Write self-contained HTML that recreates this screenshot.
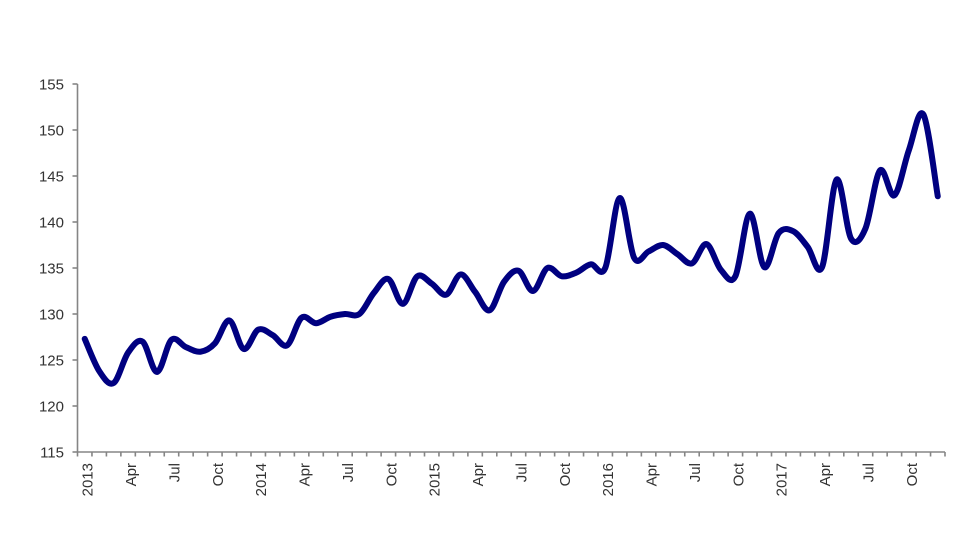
<!DOCTYPE html>
<html>
<head>
<meta charset="utf-8">
<style>
  html,body{margin:0;padding:0;background:#fff;}
  svg{display:block;}
  text{font-family:"Liberation Sans", Arial, sans-serif;fill:#333;}
</style>
</head>
<body>
<svg id="chart" width="980" height="552" viewBox="0 0 980 552" xmlns="http://www.w3.org/2000/svg">
  <rect width="980" height="552" fill="#fff"/>
  <g id="axes" stroke="#858585" stroke-width="1.6" fill="none"></g>
  <g id="ylabels" font-size="15" text-anchor="end"></g>
  <g id="xlabels" font-size="15"></g>
  <path id="line" fill="none" stroke="#000080" stroke-width="6" stroke-linejoin="round" stroke-linecap="round"/>
</svg>
<script>
(function(){
  var NS="http://www.w3.org/2000/svg";
  var x0=77.5, x1=945, yTop=84, yBot=452;
  var mw=(x1-x0)/60;
  function Y(v){return yBot-(v-115)*(yBot-yTop)/40;}
  function X(i){return x0+mw*(i+0.5);}
  var axes=document.getElementById('axes');
  function line(a,b,c,d){var l=document.createElementNS(NS,'line');l.setAttribute('x1',a);l.setAttribute('y1',b);l.setAttribute('x2',c);l.setAttribute('y2',d);axes.appendChild(l);}
  line(x0,yTop,x0,yBot);
  line(x0,yBot,x1,yBot);
  var yl=document.getElementById('ylabels');
  for(var v=115;v<=155;v+=5){
    var y=Y(v);
    line(x0-5,y,x0,y);
    var t=document.createElementNS(NS,'text');
    t.setAttribute('x',64);t.setAttribute('y',y+5.4);t.textContent=v;yl.appendChild(t);
  }
  for(var i=0;i<=60;i++){var x=x0+mw*i;line(x,yBot,x,yBot+4.5);}
  var xl=document.getElementById('xlabels');
  var years=['2013','2014','2015','2016','2017'];
  for(var i=0;i<60;i+=3){
    var m=i%12, lab = m===0?years[i/12]:(m===3?'Apr':(m===6?'Jul':'Oct'));
    var bx=X(i)+8, by=463;
    var t=document.createElementNS(NS,'text');
    t.setAttribute('x',0);t.setAttribute('y',0);
    t.setAttribute('text-anchor','end');
    t.setAttribute('transform','translate('+bx+','+by+') rotate(-90)');
    t.textContent=lab;xl.appendChild(t);
  }
  var d=[127.3,123.8,122.5,125.8,127.0,123.7,127.2,126.4,125.9,126.8,129.3,126.2,
         128.3,127.7,126.6,129.6,129.0,129.7,130.0,130.0,132.3,133.8,131.1,134.1,
         133.3,132.1,134.3,132.4,130.4,133.5,134.7,132.5,135.0,134.1,134.5,135.4,
         135.0,142.6,136.1,136.8,137.5,136.5,135.5,137.6,134.8,134.1,140.9,135.1,
         138.8,139.0,137.3,135.1,144.6,138.2,139.3,145.6,142.9,147.8,151.7,142.8];
  var p=d.map(function(v,i){return [X(i),Y(v)];});
  var s='M'+p[0][0].toFixed(2)+','+p[0][1].toFixed(2);
  for(var i=0;i<p.length-1;i++){
    var a=p[i-1]||p[i], b=p[i], c=p[i+1], e=p[i+2]||p[i+1];
    var c1x=b[0]+(c[0]-a[0])/6, c1y=b[1]+(c[1]-a[1])/6;
    var c2x=c[0]-(e[0]-b[0])/6, c2y=c[1]-(e[1]-b[1])/6;
    s+=' C'+c1x.toFixed(2)+','+c1y.toFixed(2)+' '+c2x.toFixed(2)+','+c2y.toFixed(2)+' '+c[0].toFixed(2)+','+c[1].toFixed(2);
  }
  document.getElementById('line').setAttribute('d',s);
})();
</script>
</body>
</html>
